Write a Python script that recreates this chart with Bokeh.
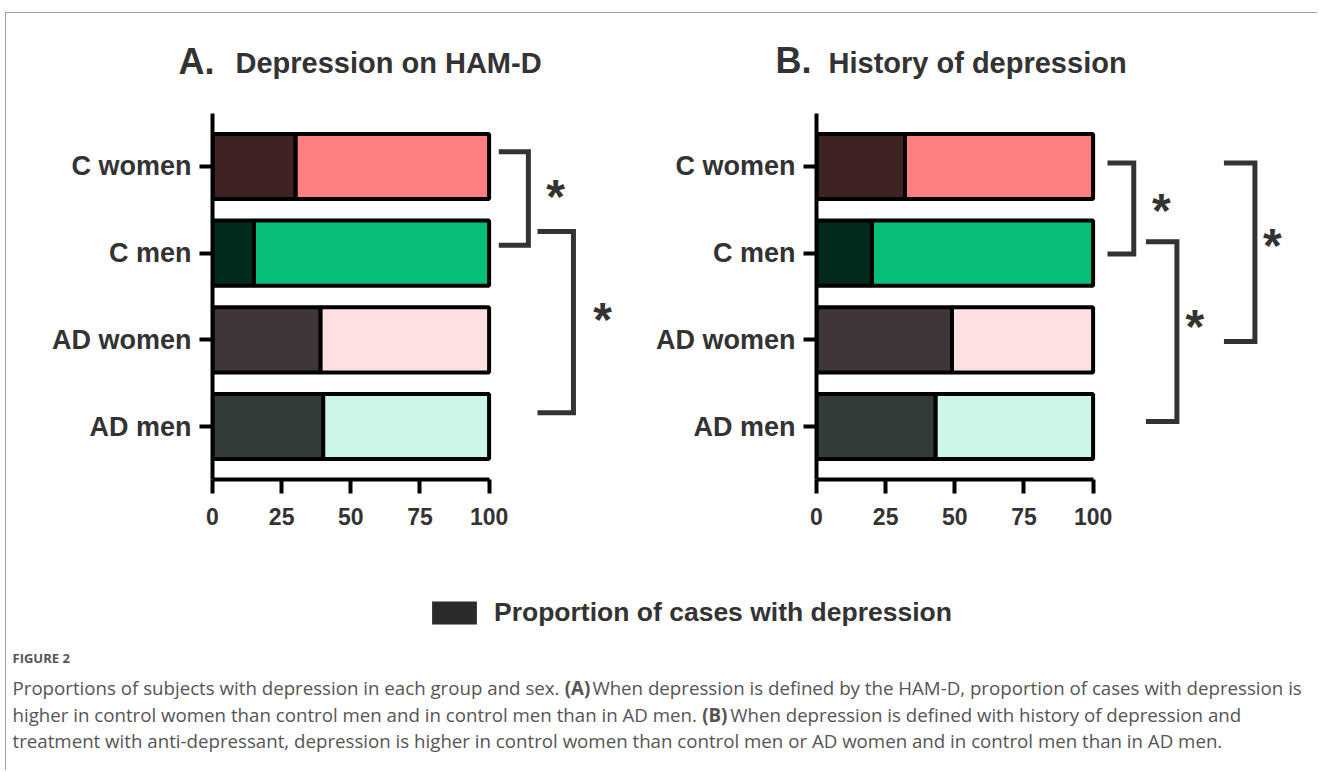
from bokeh.plotting import figure
from bokeh.layouts import column, row
from bokeh.models import Range1d, FactorRange, FixedTicker, ColumnDataSource, Legend, LegendItem
from bokeh.core.properties import value
from bokeh.embed import file_html
from bokeh.resources import INLINE

# ---------------- data ----------------
categories = ["C women", "C men", "AD women", "AD men"]
ham_d_pct = [30, 15, 39, 40]          # panel A: % with depression on HAM-D
history_pct = [32, 20, 49, 43]        # panel B: % with history of depression
totals = [100, 100, 100, 100]
light_colors = ["#FF7F7F", "#07BF78", "#FFE0E2", "#CCF7E7"]
dark_colors = ["#3F2224", "#022A1B", "#403637", "#343C39"]
x_ticks = [0, 25, 50, 75, 100]
panel_a_title = ("A.", "Depression on HAM-D")
panel_b_title = ("B.", "History of depression")
legend_label = "Proportion of cases with depression"
legend_color = "#2B2B2B"
# significance comparisons (upper group, lower group)
comparisons_a = [("C women", "C men"), ("C men", "AD men")]
comparisons_b = [("C women", "C men"), ("C men", "AD men"), ("C women", "AD women")]
caption_head = "FIGURE 2"
# each caption line: (plain text before, bold marker, plain text after)
caption_lines = [
    ("Proportions of subjects with depression in each group and sex. ", "(A)",
     "When depression is defined by the HAM-D, proportion of cases with depression is"),
    ("higher in control women than control men and in control men than in AD men. ", "(B)",
     "When depression is defined with history of depression and"),
    ("treatment with anti-depressant, depression is higher in control women than control men or AD women and in control men than in AD men.", "", ""),
]

# ---------------- layout / style ----------------
FONT = "Liberation Sans"
CAP_FONT = "Open Sans"
CAP_SIZE = 18.7
CAP_COLOR = "#555555"
TXT = "#333333"
OX, OY = 6, 13                 # page origin of the layout (after frame border)
TOTAL_W = 1311
HEAD_BOTTOM = 108
PANEL_BOTTOM = 560
FOOT_BOTTOM = 770
PANEL_H = PANEL_BOTTOM - HEAD_BOTTOM
A_W, A_LEFT = 642, 206
B_LEFT = 168
PX_PER_UNIT = 2.766
FRAME_TOP = 5
FRAME_H = 366
Y_PAD = 0.11
BAR_H = 0.75
PPU_Y = FRAME_H / (len(categories) + 2 * Y_PAD)

# bracket geometry: (x_left, x_right, top offset, bottom offset, star x, star lift px)
geom_a = [(103.5, 114.2, 0.17, 0.09, 124.0, 8), (117.5, 130.5, 0.25, 0.16, 141.0, 8.5)]
geom_b = [(105.2, 114.7, 0.04, -0.01, 124.7, 4), (119.1, 130.3, 0.13, 0.06, 136.8, 11),
          (147.3, 158.5, 0.04, -0.02, 164.8, 13)]
STAR_SIZE = 48
STAR_INK = 6


def text_width(s, size, bold=False):
    """Width of caption text in px, from the installed font if possible."""
    try:
        import subprocess
        from PIL import ImageFont
        style = "Bold" if bold else "Regular"
        path = subprocess.run(["fc-match", "-f", "%{file}", f"{CAP_FONT}:style={style}"],
                              capture_output=True, text=True, timeout=5).stdout.strip()
        f = ImageFont.truetype(path, 200)
        return f.getlength(s) * size / 200.0
    except Exception:
        return None


def make_panel(vals, width, border_left, comps, geom):
    factors = list(reversed(categories))
    center = {f: i + 0.5 for i, f in enumerate(factors)}
    frame_w = width - border_left
    p = figure(width=width, height=PANEL_H,
               x_range=Range1d(0, frame_w / PX_PER_UNIT),
               y_range=FactorRange(factors=factors, range_padding=Y_PAD,
                                   range_padding_units="absolute"),
               output_backend="svg", toolbar_location=None,
               min_border_left=border_left, min_border_right=0,
               min_border_top=FRAME_TOP,
               min_border_bottom=PANEL_H - FRAME_TOP - FRAME_H)
    src = ColumnDataSource(dict(cat=categories, v=vals, full=totals,
                                light=light_colors, dark=dark_colors))
    p.hbar(y="cat", left="v", right="full", height=BAR_H, fill_color="light",
           line_color="black", line_width=4, source=src)
    p.hbar(y="cat", left=0, right="v", height=BAR_H, fill_color="dark",
           line_color="black", line_width=4, source=src)

    xs, ys, sx, sy = [], [], [], []
    for (top, bot), (x0, x1, dt, db, xs_star, lift) in zip(comps, geom):
        yt = center[top] + dt
        yb = center[bot] + db
        xs.append([x0, x1, x1, x0])
        ys.append([yt, yt, yb, yb])
        sx.append(xs_star)
        sy.append((yt + yb) / 2 + (lift - STAR_INK) / PPU_Y)
    p.multi_line(xs=xs, ys=ys, line_color=TXT, line_width=5, line_join="miter")
    p.text(x=sx, y=sy, text=["*"] * len(sx), text_font=value(FONT),
           text_font_style="bold", text_font_size=f"{STAR_SIZE}px",
           text_color=TXT, text_align="center", text_baseline="alphabetic")

    p.xgrid.visible = False
    p.ygrid.visible = False
    p.outline_line_color = None
    for ax in (p.xaxis[0], p.yaxis[0]):
        ax.axis_line_width = 4
        ax.axis_line_color = "black"
        ax.major_tick_line_width = 4
        ax.major_tick_line_color = "black"
        ax.major_tick_in = 0
        ax.minor_tick_line_color = None
        ax.major_label_text_font = FONT
        ax.major_label_text_font_style = "bold"
        ax.major_label_text_color = TXT
    p.xaxis.bounds = (0, 100)
    p.xaxis.ticker = FixedTicker(ticks=x_ticks)
    p.xaxis.major_tick_out = 14
    p.xaxis.major_label_standoff = 14
    p.xaxis.major_label_text_font_size = "23px"
    p.yaxis.major_tick_out = 13
    p.yaxis.major_label_standoff = 8
    p.yaxis.major_label_text_font_size = "27px"
    return p


def canvas(y_top, y_bottom):
    c = figure(width=TOTAL_W, height=y_bottom - y_top,
               x_range=Range1d(OX, OX + TOTAL_W), y_range=Range1d(y_bottom, y_top),
               output_backend="svg", toolbar_location=None,
               x_axis_type=None, y_axis_type=None, min_border=0)
    c.xgrid.visible = False
    c.ygrid.visible = False
    c.outline_line_color = None
    return c


# header with panel titles (y values are visual text centres)
head = canvas(OY, HEAD_BOTTOM)
for (letter, title), (xl, xt, yl, yt) in zip([panel_a_title, panel_b_title],
                                             [(178, 235, 61, 62), (775, 828, 60, 62)]):
    head.text(x=[xl], y=[yl], text=[letter], text_font=value(FONT), text_font_style="bold",
              text_font_size="36px", text_color=TXT, text_baseline="alphabetic")
    head.text(x=[xt], y=[yt], text=[title], text_font=value(FONT), text_font_style="bold",
              text_font_size="29px", text_color=TXT, text_baseline="alphabetic")

pa = make_panel(ham_d_pct, A_W, A_LEFT, comparisons_a, geom_a)
pb = make_panel(history_pct, TOTAL_W - A_W, B_LEFT, comparisons_b, geom_b)

# footer with legend and caption
foot = canvas(PANEL_BOTTOM, FOOT_BOTTOM)
leg_src = ColumnDataSource(dict(l=[0], r=[0], t=[0], b=[0]))
r = foot.quad(left="l", right="r", top="t", bottom="b", source=leg_src,
              fill_color=legend_color, line_color=None, visible=False)
leg = Legend(items=[LegendItem(label=legend_label, renderers=[r])],
             location=(426 - OX, FOOT_BOTTOM - 628), padding=0, margin=0, spacing=0,
             glyph_width=56, glyph_height=29, label_standoff=12,
             label_text_font=FONT, label_text_font_style="bold",
             label_text_font_size="26.5px", label_text_color=TXT,
             border_line_color=None, background_fill_alpha=0)
foot.add_layout(leg)
foot.text(x=[12], y=[657], text=[caption_head], text_font=value(CAP_FONT),
          text_font_style="bold", text_font_size="13px", text_color=CAP_COLOR,
          text_baseline="alphabetic")

# caption lines; bold group markers placed after the measured plain text
fallback_x = [494.5, 711.0]
cap_y = [687, 714, 740]
X0 = 12
for i, (pre, mark, post) in enumerate(caption_lines):
    foot.text(x=[X0], y=[cap_y[i]], text=[pre.rstrip()], text_font=value(CAP_FONT),
              text_font_size=f"{CAP_SIZE}px", text_color=CAP_COLOR,
              text_baseline="alphabetic")
    if mark:
        w_pre = text_width(pre, CAP_SIZE)
        w_mark = text_width(mark + " ", CAP_SIZE, bold=True)
        if w_pre is None or w_mark is None:
            xm = fallback_x[i]
            w_mark = 1.70 * CAP_SIZE
        else:
            xm = X0 + w_pre
        foot.text(x=[xm], y=[cap_y[i]], text=[mark], text_font=value(CAP_FONT),
                  text_font_style="bold", text_font_size=f"{CAP_SIZE}px",
                  text_color=CAP_COLOR, text_baseline="alphabetic")
        foot.text(x=[xm + w_mark], y=[cap_y[i]], text=[post], text_font=value(CAP_FONT),
                  text_font_size=f"{CAP_SIZE}px", text_color=CAP_COLOR,
                  text_baseline="alphabetic")

layout = column(head, row(pa, pb), foot,
                styles={"margin-left": "5px", "margin-top": "12px",
                        "border-left": "1px solid #A0A0A0",
                        "border-top": "1px solid #A0A0A0"})

open("out.html", "w").write(file_html(layout, INLINE))
